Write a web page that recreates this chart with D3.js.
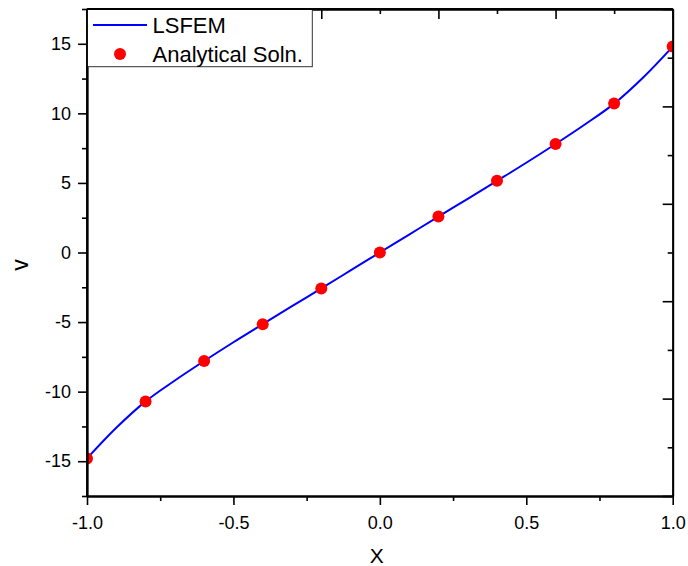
<!DOCTYPE html>
<html>
<head>
<meta charset="utf-8">
<script src="https://cdn.jsdelivr.net/npm/d3@7"></script>
<style>
  body { margin: 0; background: #fff; }
  text { font-family: "Liberation Sans", Arial, sans-serif; fill: #000; }
</style>
</head>
<body>
<script>
// LSFEM curve, every 0.1
const lineX = [-1.0, -0.9, -0.8, -0.7, -0.6, -0.5, -0.4, -0.3, -0.2, -0.1, 0.0,
               0.1, 0.2, 0.3, 0.4, 0.5, 0.6, 0.7, 0.8, 0.9, 1.0];
const lineV = [-14.8, -12.6, -10.7, -9.2, -7.8, -6.45, -5.15, -3.86, -2.58, -1.29, 0.0,
               1.29, 2.58, 3.86, 5.15, 6.45, 7.8, 9.2, 10.7, 12.6, 14.8];

// analytical solution points
const pointX = [-1.0, -0.8, -0.6, -0.4, -0.2, 0.0, 0.2, 0.4, 0.6, 0.8, 1.0];
const pointV = [-14.8, -10.7, -7.8, -5.15, -2.58, 0.0, 2.58, 5.15, 7.8, 10.7, 14.8];

// tick labels
const xMajor = [-1.0, -0.5, 0.0, 0.5, 1.0];
const xMinor = [-0.75, -0.25, 0.25, 0.75];
const yMajor = [-15, -10, -5, 0, 5, 10, 15];
const yMinor = [-17.5, -12.5, -7.5, -2.5, 2.5, 7.5, 12.5, 17.5];
// opposite axes (Origin style, every 1/10 of range)
const topMajor = [-1.0, -0.6, -0.2, 0.2, 0.6, 1.0];
const topMinor = [-0.8, -0.4, 0.0, 0.4, 0.8];
const rightMajor = [-17.5, -10.5, -3.5, 3.5, 10.5, 17.5];
const rightMinor = [-14, -7, 0, 7, 14];

const W = 688, H = 566;
const mLeft = 87, mRight = 672.7, mTop = 9, mBottom = 496;

const svg = d3.select('body').append('svg')
  .attr('width', W).attr('height', H);

const x = d3.scaleLinear().domain([-1, 1]).range([mLeft, mRight]);
const y = d3.scaleLinear().domain([-17.5, 17.5]).range([mBottom, mTop]);

svg.append('clipPath').attr('id', 'clip')
  .append('rect').attr('x', mLeft).attr('y', mTop)
  .attr('width', mRight - mLeft).attr('height', mBottom - mTop);

const plot = svg.append('g').attr('clip-path', 'url(#clip)');

const lineData = lineX.map((d, i) => [d, lineV[i]]);
plot.append('path')
  .datum(lineData)
  .attr('fill', 'none')
  .attr('stroke', '#0000ff')
  .attr('stroke-width', 2)
  .attr('d', d3.line().x(d => x(d[0])).y(d => y(d[1])).curve(d3.curveCatmullRom));

plot.selectAll('circle.pt')
  .data(pointX.map((d, i) => [d, pointV[i]]))
  .join('circle')
  .attr('class', 'pt')
  .attr('cx', d => x(d[0]))
  .attr('cy', d => y(d[1]))
  .attr('r', 6)
  .attr('fill', '#ff0000');

// axes
function styleAxis(g) {
  g.selectAll('path.domain').attr('stroke', '#000').attr('stroke-width', 1.8);
  g.selectAll('.tick line').attr('stroke', '#000').attr('stroke-width', 1.6);
}

// plain hyphen for negatives, like the original
const fmtX = d => d.toFixed(1);
const fmtY = d => String(d);
const tickFont = '"Liberation Sans", Arial, sans-serif';

svg.append('g').attr('transform', `translate(0,${mBottom})`)
  .call(d3.axisBottom(x).tickValues(xMinor).tickSize(5).tickSizeOuter(0).tickFormat(''))
  .call(styleAxis);
svg.append('g').attr('transform', `translate(0,${mBottom})`)
  .call(d3.axisBottom(x).tickValues(xMajor).tickSize(9).tickSizeOuter(0).tickPadding(11).tickFormat(fmtX))
  .call(styleAxis)
  .call(g => g.selectAll('text').attr('font-size', 18).attr('font-family', tickFont));

svg.append('g').attr('transform', `translate(${mLeft},0)`)
  .call(d3.axisLeft(y).tickValues(yMinor).tickSize(5).tickSizeOuter(0).tickFormat(''))
  .call(styleAxis);
svg.append('g').attr('transform', `translate(${mLeft},0)`)
  .call(d3.axisLeft(y).tickValues(yMajor).tickSize(9).tickSizeOuter(0).tickPadding(7).tickFormat(fmtY))
  .call(styleAxis)
  .call(g => g.selectAll('text').attr('font-size', 18).attr('font-family', tickFont));

// top and right, ticks pointing in
svg.append('g').attr('transform', `translate(0,${mTop})`)
  .call(d3.axisTop(x).tickValues(topMinor).tickSize(-5).tickSizeOuter(0).tickFormat(''))
  .call(styleAxis);
svg.append('g').attr('transform', `translate(0,${mTop})`)
  .call(d3.axisTop(x).tickValues(topMajor).tickSize(-10).tickSizeOuter(0).tickFormat(''))
  .call(styleAxis);
svg.append('g').attr('transform', `translate(${mRight},0)`)
  .call(d3.axisRight(y).tickValues(rightMinor).tickSize(-5).tickSizeOuter(0).tickFormat(''))
  .call(styleAxis);
svg.append('g').attr('transform', `translate(${mRight},0)`)
  .call(d3.axisRight(y).tickValues(rightMajor).tickSize(-10).tickSizeOuter(0).tickFormat(''))
  .call(styleAxis);

// titles
svg.append('text')
  .attr('x', (mLeft + mRight) / 2 - 3).attr('y', 563)
  .attr('text-anchor', 'middle').attr('font-size', 21)
  .text('X');
svg.append('text')
  .attr('transform', 'translate(28,265) rotate(-90)')
  .attr('text-anchor', 'middle').attr('font-size', 23)
  .text('v');

// legend
const lg = svg.append('g');
lg.append('rect')
  .attr('x', mLeft).attr('y', mTop)
  .attr('width', 312.3 - mLeft).attr('height', 66.7 - mTop)
  .attr('fill', '#fff').attr('stroke', '#333').attr('stroke-width', 1);
lg.append('line')
  .attr('x1', 93).attr('x2', 147).attr('y1', 25).attr('y2', 25)
  .attr('stroke', '#0000ff').attr('stroke-width', 2);
lg.append('circle').attr('cx', 120).attr('cy', 54).attr('r', 6).attr('fill', '#ff0000');
lg.append('text').attr('x', 152.5).attr('y', 25).attr('dy', '0.36em')
  .attr('font-size', 22).text('LSFEM');
lg.append('text').attr('x', 152.5).attr('y', 54).attr('dy', '0.36em')
  .attr('font-size', 22).text('Analytical Soln.');
// redraw left and top frame lines over legend
svg.append('line').attr('x1', mLeft).attr('x2', mRight).attr('y1', mTop).attr('y2', mTop)
  .attr('stroke', '#000').attr('stroke-width', 1.8);
svg.append('line').attr('x1', mLeft).attr('x2', mLeft).attr('y1', mTop).attr('y2', mBottom)
  .attr('stroke', '#000').attr('stroke-width', 1.8);
</script>
</body>
</html>
